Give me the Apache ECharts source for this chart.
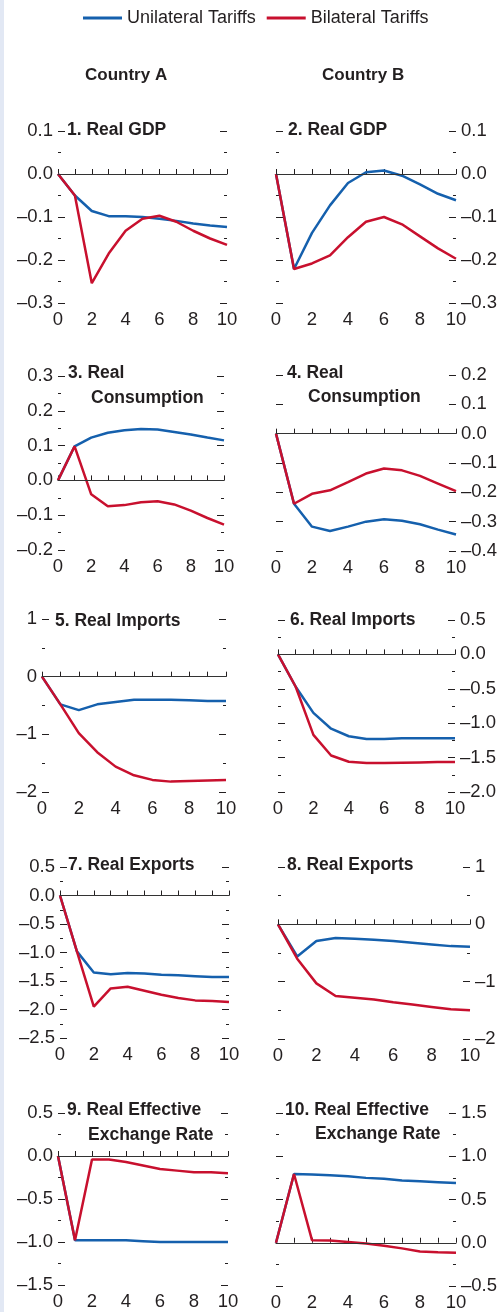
<!DOCTYPE html>
<html>
<head>
<meta charset="utf-8">
<script src="https://cdn.jsdelivr.net/npm/echarts@6/dist/echarts.min.js"></script>
<style>
	html, body { margin: 0; padding: 0; background: #fff; }
	#chart { width: 500px; height: 1312px; }
</style>
</head>
<body>
<div id="chart"></div>
<script>
	// periods after the tariff shock
	var periods = ['0', '1', '2', '3', '4', '5', '6', '7', '8', '9', '10'];

	// 1-2 real GDP
	var gdpA_uni = [0, -0.05, -0.086, -0.098, -0.098, -0.100, -0.104, -0.109, -0.115, -0.120, -0.123];
	var gdpA_bi = [0, -0.05, -0.254, -0.185, -0.132, -0.104, -0.097, -0.111, -0.132, -0.150, -0.165];
	var gdpB_uni = [0, -0.221, -0.137, -0.073, -0.021, 0.004, 0.008, -0.004, -0.024, -0.046, -0.061];
	var gdpB_bi = [0, -0.221, -0.208, -0.189, -0.147, -0.111, -0.100, -0.117, -0.145, -0.173, -0.197];

	// 3-4 real consumption
	var consA_uni = [0, 0.098, 0.123, 0.137, 0.144, 0.148, 0.146, 0.139, 0.132, 0.123, 0.115];
	var consA_bi = [0, 0.098, -0.040, -0.074, -0.071, -0.063, -0.060, -0.069, -0.087, -0.108, -0.127];
	var consB_uni = [0, -0.239, -0.317, -0.332, -0.317, -0.300, -0.292, -0.297, -0.309, -0.327, -0.344];
	var consB_bi = [0, -0.239, -0.205, -0.193, -0.165, -0.136, -0.119, -0.125, -0.144, -0.170, -0.196];

	// 5-6 real imports
	var impA_uni = [0, -0.48, -0.58, -0.48, -0.44, -0.40, -0.40, -0.40, -0.41, -0.42, -0.42];
	var impA_bi = [0, -0.48, -0.98, -1.31, -1.56, -1.71, -1.79, -1.82, -1.81, -1.80, -1.79];
	var impB_uni = [0, -0.47, -0.85, -1.08, -1.19, -1.23, -1.23, -1.22, -1.22, -1.22, -1.22];
	var impB_bi = [0, -0.47, -1.17, -1.47, -1.56, -1.58, -1.58, -1.575, -1.57, -1.565, -1.565];

	// 7-8 real exports
	var expA_uni = [0, -0.98, -1.35, -1.38, -1.36, -1.37, -1.39, -1.40, -1.415, -1.43, -1.43];
	var expA_bi = [0, -0.98, -1.95, -1.63, -1.60, -1.67, -1.74, -1.80, -1.84, -1.85, -1.87];
	var expB_uni = [0, -0.56, -0.29, -0.24, -0.25, -0.27, -0.29, -0.32, -0.35, -0.38, -0.39];
	var expB_bi = [0, -0.60, -1.03, -1.25, -1.28, -1.31, -1.36, -1.40, -1.44, -1.48, -1.50];

	// 9-10 real effective exchange rate
	var reerA_uni = [0, -0.98, -0.98, -0.98, -0.98, -0.99, -1.00, -1.00, -1.00, -1.00, -1.00];
	var reerA_bi = [0, -0.98, -0.04, -0.04, -0.07, -0.11, -0.15, -0.17, -0.19, -0.19, -0.20];
	var reerB_uni = [0, 0.795, 0.79, 0.78, 0.77, 0.75, 0.74, 0.72, 0.71, 0.70, 0.69];
	var reerB_bi = [0, 0.795, 0.03, 0.025, 0.01, -0.01, -0.035, -0.065, -0.10, -0.11, -0.115];

	var seriesNames = ['Unilateral Tariffs', 'Bilateral Tariffs'];
	var countryNames = ['Country A', 'Country B'];

	var BLUE = '#1560ad';
	var RED = '#c8102e';
	var INK = '#231f20';
	var FONT = "'Liberation Sans', Arial, sans-serif";

	// one entry per small chart: data, axis range, grid box, title lines
	var panels = [
		{ uni: gdpA_uni, bi: gdpA_bi, min: -0.3, max: 0.1, step: 0.1, dec: 1, minor: true, side: 'left',
			box: [58, 131, 169, 172], title: [['1. Real GDP', 67, 130]] },
		{ uni: gdpB_uni, bi: gdpB_bi, min: -0.3, max: 0.1, step: 0.1, dec: 1, minor: true, side: 'right',
			box: [276, 131, 180, 172], title: [['2. Real GDP', 288, 130]] },
		{ uni: consA_uni, bi: consA_bi, min: -0.2, max: 0.3, step: 0.1, dec: 1, minor: true, side: 'left',
			box: [58, 376, 166, 174], title: [['3. Real', 68, 373], ['Consumption', 91, 398]] },
		{ uni: consB_uni, bi: consB_bi, min: -0.4, max: 0.2, step: 0.1, dec: 1, minor: false, side: 'right',
			box: [276, 375, 181, 176], title: [['4. Real', 287, 373], ['Consumption', 308, 397]] },
		{ uni: impA_uni, bi: impA_bi, min: -2, max: 1, step: 1, dec: 0, minor: true, side: 'left',
			box: [42, 619, 184, 173], title: [['5. Real Imports', 55, 621]] },
		{ uni: impB_uni, bi: impB_bi, min: -2, max: 0.5, step: 0.5, dec: 1, minor: true, side: 'right',
			box: [278, 620, 177, 172], title: [['6. Real Imports', 290, 620]] },
		{ uni: expA_uni, bi: expA_bi, min: -2.5, max: 0.5, step: 0.5, dec: 1, minor: true, side: 'left',
			box: [60, 867, 169, 171], title: [['7. Real Exports', 68, 865]] },
		{ uni: expB_uni, bi: expB_bi, min: -2, max: 1, step: 1, dec: 0, minor: true, side: 'right',
			box: [278, 867, 192, 172], title: [['8. Real Exports', 287, 865]] },
		{ uni: reerA_uni, bi: reerA_bi, min: -1.5, max: 0.5, step: 0.5, dec: 1, minor: true, side: 'left',
			box: [58, 1113, 170, 172], title: [['9. Real Effective', 67, 1110], ['Exchange Rate', 88, 1135]] },
		{ uni: reerB_uni, bi: reerB_bi, min: -0.5, max: 1.5, step: 0.5, dec: 1, minor: true, side: 'right',
			box: [276, 1113, 180, 174], title: [['10. Real Effective', 285, 1110], ['Exchange Rate', 315, 1134]] }
	];

	function tickText(v, dec) {
		var s = Math.abs(v).toFixed(dec);
		return (v < -1e-9 ? '\u2013' : '') + s;
	}

	var grids = [], xAxes = [], yAxes = [], series = [];
	var graphics = [
		{ type: 'rect', shape: { x: 0, y: 0, width: 4, height: 1312 }, style: { fill: '#e2e8f4' }, silent: true }
	];

	countryNames.forEach(function(name, i) {
		graphics.push({
			type: 'text', x: i === 0 ? 85 : 322, y: 75,
			style: { text: name, fontSize: 17, fontWeight: 'bold', fontFamily: FONT, fill: INK, verticalAlign: 'middle' }
		});
	});

	panels.forEach(function(p, i) {
		grids.push({ left: p.box[0], top: p.box[1], width: p.box[2], height: p.box[3] });
		xAxes.push({
			type: 'category', gridIndex: i, data: periods, boundaryGap: false,
			axisLine: { show: true, lineStyle: { color: INK, width: 1 } },
			axisTick: { show: true, inside: true, length: 5, interval: 0, lineStyle: { color: INK } },
			axisLabel: { interval: 1, fontSize: 18.5, fontFamily: FONT, color: INK, margin: 7 },
			splitLine: { show: false }
		});
		['left', 'right'].forEach(function(pos) {
			yAxes.push({
				type: 'value', gridIndex: i, position: pos,
				min: p.min, max: p.max, interval: p.step,
				axisLine: { show: false },
				axisTick: { show: true, inside: true, length: 7, lineStyle: { color: INK } },
				minorTick: { show: p.minor, splitNumber: 2, length: 3, lineStyle: { color: INK } },
				splitLine: { show: false },
				axisLabel: {
					show: pos === p.side, fontSize: 18.5, fontFamily: FONT, color: INK, margin: 5,
					formatter: function(v) { return tickText(v, p.dec); }
				}
			});
		});
		series.push({
			name: seriesNames[0], type: 'line', xAxisIndex: i, yAxisIndex: i * 2,
			data: p.uni, symbol: 'none', lineStyle: { color: BLUE, width: 2.5 }, itemStyle: { color: BLUE },
			markLine: {
				silent: true, symbol: ['none', 'none'], label: { show: false },
				lineStyle: { color: '#333', width: 1, type: 'solid' },
				data: [{ yAxis: 0 }]
			}
		});
		series.push({
			name: seriesNames[1], type: 'line', xAxisIndex: i, yAxisIndex: i * 2,
			data: p.bi, symbol: 'none', lineStyle: { color: RED, width: 2.5 }, itemStyle: { color: RED }
		});
		p.title.forEach(function(t) {
			graphics.push({
				type: 'text', x: t[1], y: t[2],
				style: { text: t[0], fontSize: 17.5, fontWeight: 'bold', fontFamily: FONT, fill: INK, verticalAlign: 'middle' }
			});
		});
	});

	var option = {
		animation: false,
		backgroundColor: '#fff',
		legend: {
			data: seriesNames, left: 78, top: 4, icon: 'rect', itemWidth: 39, itemHeight: 3, itemGap: 11,
			textStyle: { fontSize: 18, fontFamily: FONT, color: INK }
		},
		grid: grids,
		xAxis: xAxes,
		yAxis: yAxes,
		series: series,
		graphic: graphics
	};

	var chart = echarts.init(document.getElementById('chart'));
	chart.setOption(option);
</script>
</body>
</html>
